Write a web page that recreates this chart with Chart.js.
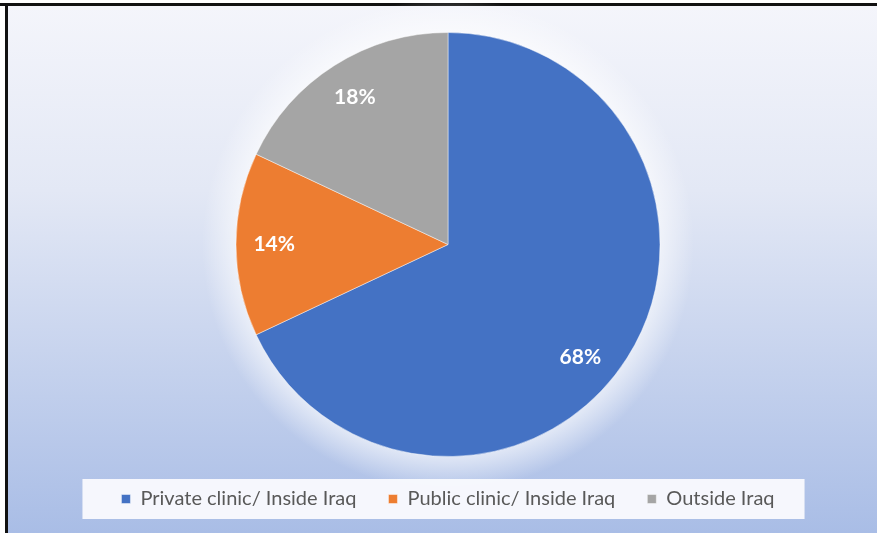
<!DOCTYPE html>
<html>
<head>
<meta charset="utf-8">
<script src="https://cdn.jsdelivr.net/npm/chart.js@4.4.1/dist/chart.umd.min.js"></script>
<style>
  html, body { margin: 0; padding: 0; background: #ffffff; }
  #wrap { width: 877px; height: 533px; }
</style>
</head>
<body>
<div id="wrap"><canvas id="c" width="877" height="533"></canvas></div>
<script>
// Where patients were treated
const categories = ['Private clinic/ Inside Iraq', 'Public clinic/ Inside Iraq', 'Outside Iraq'];
const shares = [68, 14, 18];
const sliceColors = ['#4472C4', '#ED7D31', '#A5A5A5'];

// Panel background: frame lines, vertical light-blue gradient, soft halo around the pie
const panelBackground = {
  id: 'panelBackground',
  beforeDraw(chart) {
    const ctx = chart.ctx;
    const W = chart.width, H = chart.height;
    ctx.save();
    ctx.fillStyle = '#ffffff';
    ctx.fillRect(0, 0, W, H);
    const g = ctx.createLinearGradient(0, 6, 0, H);
    g.addColorStop(0, '#f4f5fb');
    g.addColorStop(0.35, '#e3e8f5');
    g.addColorStop(1, '#a9bde6');
    ctx.fillStyle = g;
    ctx.fillRect(8, 6, W - 8, H - 6);
    // frame
    ctx.fillStyle = '#111111';
    ctx.fillRect(0, 3, W, 3);
    ctx.fillRect(5, 3, 3, H - 3);

    // halo behind the pie
    const arc = chart.getDatasetMeta(0).data[0];
    if (arc) {
      const r = arc.outerRadius;
      const halo = ctx.createRadialGradient(arc.x, arc.y, r - 2, arc.x, arc.y, r + 34);
      halo.addColorStop(0, 'rgba(255,255,255,0.6)');
      halo.addColorStop(1, 'rgba(255,255,255,0)');
      ctx.fillStyle = halo;
      ctx.beginPath();
      ctx.arc(arc.x, arc.y, r + 36, 0, Math.PI * 2);
      ctx.fill();
    }

    // white box behind the legend
    const lg = chart.legend;
    if (lg && lg.legendHitBoxes && lg.legendHitBoxes.length) {
      const hb = lg.legendHitBoxes;
      const first = hb[0], last = hb[hb.length - 1];
      const cy = first.top + first.height / 2;
      const x0 = first.left - 39;
      const x1 = last.left + last.width + 30;
      ctx.fillStyle = 'rgba(248,249,253,0.97)';
      ctx.fillRect(x0, cy - 20, x1 - x0, 40);
    }
    ctx.restore();
  }
};

// Percentage labels inside the slices
const sliceLabels = {
  id: 'sliceLabels',
  afterDatasetsDraw(chart, args, opts) {
    const ctx = chart.ctx;
    const meta = chart.getDatasetMeta(0);
    const values = chart.data.datasets[0].data;
    const total = values.reduce((a, b) => a + b, 0);
    ctx.save();
    ctx.font = opts.font;
    ctx.fillStyle = opts.color;
    ctx.textAlign = 'center';
    ctx.textBaseline = 'middle';
    meta.data.forEach((arc, i) => {
      const nudge = (opts.angleNudge[i] || 0) * Math.PI / 180;
      const mid = (arc.startAngle + arc.endAngle) / 2 + nudge;
      const d = arc.outerRadius * opts.radiusFraction;
      const pct = Math.round(values[i] / total * 100) + '%';
      ctx.fillText(pct, arc.x + Math.cos(mid) * d, arc.y + Math.sin(mid) * d);
    });
    ctx.restore();
  }
};

new Chart(document.getElementById('c'), {
  type: 'pie',
  data: {
    labels: categories,
    datasets: [{
      data: shares,
      backgroundColor: sliceColors,
      borderColor: 'rgba(255,255,255,0.45)',
      borderWidth: 1,
      hoverOffset: 0
    }]
  },
  options: {
    responsive: false,
    animation: false,
    devicePixelRatio: 1,
    layout: { padding: { top: 32, left: 28, right: 9, bottom: 14 } },
    plugins: {
      tooltip: { enabled: false },
      legend: {
        position: 'bottom',
        labels: {
          boxWidth: 9,
          boxHeight: 9,
          padding: 32,
          color: '#595959',
          font: { family: 'Lato, "Open Sans", sans-serif', size: 20 }
        }
      },
      sliceLabels: {
        font: 'bold 21px Lato, "Open Sans", sans-serif',
        color: '#ffffff',
        radiusFraction: 0.82,
        angleNudge: [8, 0, 0]
      }
    }
  },
  plugins: [panelBackground, sliceLabels]
});
</script>
</body>
</html>
